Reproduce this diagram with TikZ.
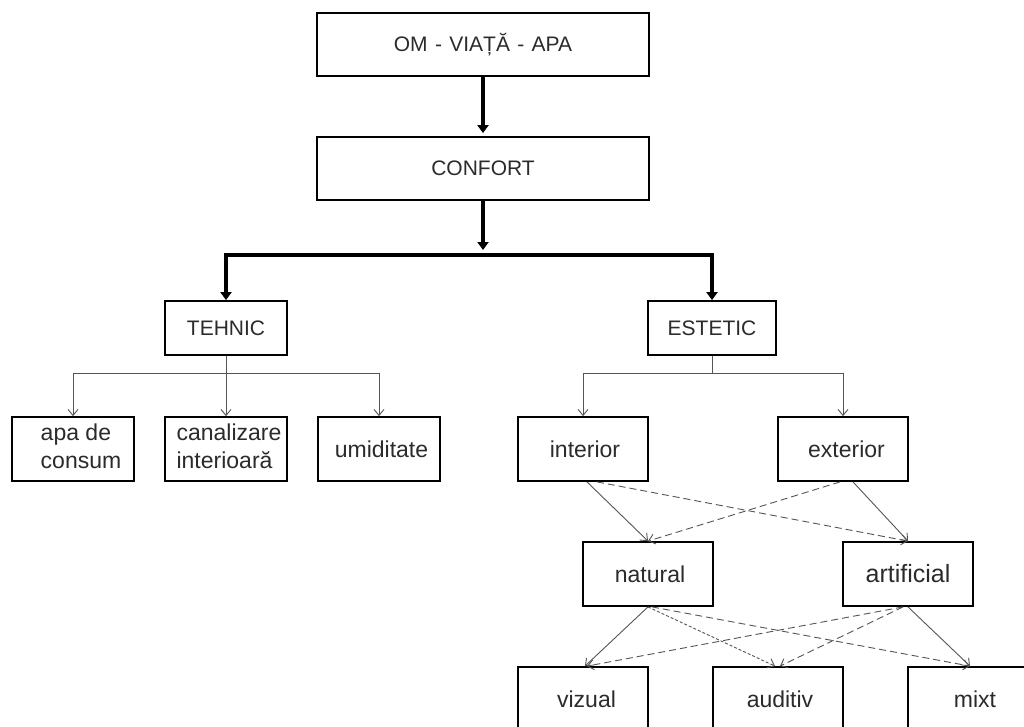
\documentclass[tikz,border=0pt]{standalone}
\usepackage{fontspec}
\setmainfont{Liberation Sans}
\usetikzlibrary{arrows.meta}
\definecolor{ink}{HTML}{2B2B2B}
\definecolor{wirecol}{HTML}{555555}
\begin{document}
\begin{tikzpicture}[x=1pt,y=-1pt,
  box/.style={draw=black, line width=1.8pt, fill=white, inner sep=0pt, align=center,
              text=ink, font=\fontsize{23}{28}\selectfont},
  capfont/.style={font=\fontsize{21}{25}\selectfont},
  bigbox/.style={box, capfont, minimum width=332pt, minimum height=63pt},
  leafbox/.style={box, minimum width=130pt, minimum height=64pt},
  heavy/.style={draw=black, line width=4.5pt, -{Triangle[width=11pt,length=8pt]}},
  wire/.style={draw=wirecol, line width=0.9pt, -{Straight Barb[width=10pt,length=6pt]}},
  dashline/.style={dash pattern=on 7pt off 4pt},
  dotline/.style={dash pattern=on 3pt off 2pt}]

\useasboundingbox (0,0) rectangle (1024,726);
\fill[white] (0,0) rectangle (1024,726);
\clip (0,0) rectangle (1024,726);

% main chain
\node[bigbox] (om) at (483,44.5) {OM \hspace{1.5pt}-\hspace{1.5pt} VIAȚĂ \hspace{1.5pt}-\hspace{1.5pt} APA};
\node[bigbox] (confort) at (483,168.5) {CONFORT};
\node[box, capfont, minimum width=122pt, minimum height=54pt] (tehnic) at (226,328) {TEHNIC};
\node[box, capfont, minimum width=128pt, minimum height=54pt] (estetic) at (712,328) {ESTETIC};

% technical comfort
\node[leafbox, minimum width=122pt] (apa) at (73,449) {\hspace*{16pt}\begin{tabular}{@{}l@{}}apa de\\consum\end{tabular}};
\node[leafbox, minimum width=122pt] (canal) at (226,449) {\hspace*{6pt}\begin{tabular}{@{}l@{}}canalizare\\interioară\end{tabular}};
\node[leafbox, minimum width=122pt] (umid) at (379,449) {\hspace*{5pt}umiditate};

% aesthetic comfort
\node[leafbox] (interior) at (583,449) {\hspace*{4pt}interior};
\node[leafbox] (exterior) at (843,449) {\hspace*{7pt}exterior};
\node[leafbox] (natural) at (648,574) {\hspace*{4pt}natural};
\node[leafbox, font=\fontsize{25}{30}\selectfont] (artificial) at (908,574) {artificial};
\node[leafbox] (vizual) at (583,699) {\hspace*{7pt}vizual};
\node[leafbox] (auditiv) at (778,699) {\hspace*{4pt}auditiv};
\node[leafbox] (mixt) at (973,699) {\hspace*{4pt}mixt};

% heavy connectors
\draw[heavy] (om.south) -- ([yshift=3pt]confort.north);
\coordinate (bus) at (483,255);
\draw[heavy] (confort.south) -- ([yshift=5pt]bus);
\draw[heavy] (bus) -| (tehnic.north);
\draw[heavy] (bus) -| (estetic.north);

% technical branch
\coordinate (tb) at (226,373);
\draw[wire,-] (tehnic.south) -- (tb);
\draw[wire] (tb) -| (apa.north);
\draw[wire] (tb) -- (canal.north);
\draw[wire] (tb) -| (umid.north);

% aesthetic branch
\coordinate (eb) at (712,373);
\draw[wire,-] (estetic.south) -- (eb);
\draw[wire] (eb) -| (interior.north);
\draw[wire] (eb) -| (exterior.north);

% interior / exterior to natural / artificial
\draw[wire] ([xshift=4pt]interior.south) -- (natural.north);
\draw[wire,dashline] ([xshift=14pt]interior.south) -- (artificial.north);
\draw[wire] ([xshift=10pt]exterior.south) -- (artificial.north);
\draw[wire,dashline] ([xshift=-3pt]exterior.south) -- (natural.north);

% natural / artificial to the sensory boxes
\draw[wire] (natural.south) -- ([xshift=2pt]vizual.north);
\draw[wire,dotline] (natural.south) -- ([xshift=-3pt]auditiv.north);
\draw[wire,dashline] ([xshift=4pt]natural.south) -- ([xshift=-3pt]mixt.north);
\draw[wire,dashline] ([xshift=-5pt]artificial.south) -- ([xshift=4pt]vizual.north);
\draw[wire,dashline] ([xshift=-5pt]artificial.south) -- ([xshift=2pt]auditiv.north);
\draw[wire] (artificial.south) -- ([xshift=-3pt]mixt.north);
\end{tikzpicture}
\end{document}
